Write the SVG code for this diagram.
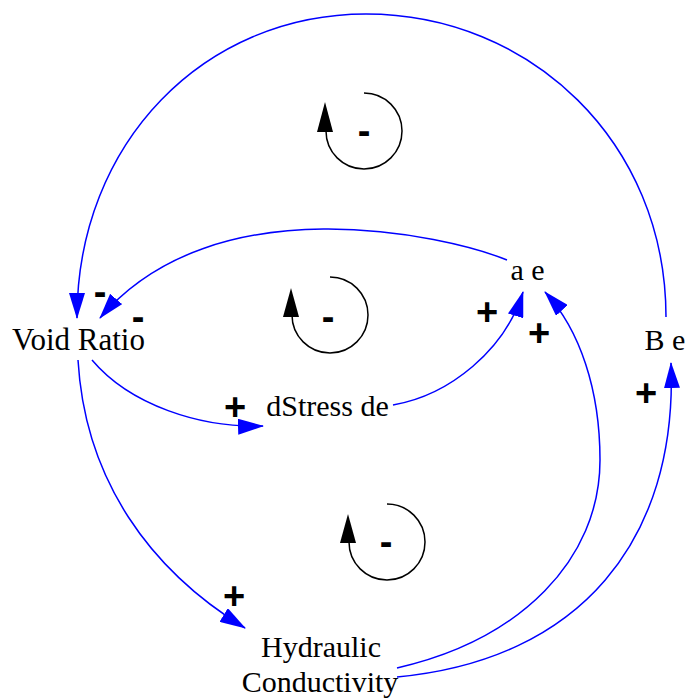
<svg xmlns="http://www.w3.org/2000/svg" width="689" height="698" viewBox="0 0 689 698">
<style>
.node{font-family:"Liberation Serif","Times New Roman",serif;font-size:30px;fill:#000;text-anchor:middle}
.link{fill:none;stroke:#0000ff;stroke-width:1.5;marker-end:url(#ah)}
.sign{font-family:"Liberation Sans",Arial,sans-serif;font-size:38px;font-weight:bold;fill:#000;text-anchor:middle}
.loop{fill:none;stroke:#000;stroke-width:1.5}
</style>
<defs>
<marker id="ah" markerUnits="userSpaceOnUse" markerWidth="26" markerHeight="16" viewBox="0 0 26 16" refX="25" refY="8" orient="auto">
<path d="M0,0 L26,8 L0,16 z" fill="#0000ff"/>
</marker>
</defs>
<rect width="689" height="698" fill="#fff"/>
<g id="connectors">
<path class="link" d="M666,317 C666,142 530,14 366,14 C205,14 77,142 77,318"/>
<path class="link" d="M507,260 C445,235 215,183 100,318"/>
<path class="link" d="M92,360 C130,405 200,428 263,426"/>
<path class="link" d="M78,360 C85,480 150,570 245,628"/>
<path class="link" d="M393,405 C450,395 505,350 523,292"/>
<path class="link" d="M397,668 C520,640 600,560 600,460 C600,390 580,330 545,292"/>
<path class="link" d="M397,677 C580,660 678,540 671,363"/>
</g>
<g id="polarity">
<text class="sign" x="100" y="305">-</text>
<text class="sign" x="138" y="330">-</text>
<text class="sign" x="235" y="420">+</text>
<text class="sign" x="234" y="609">+</text>
<text class="sign" x="487" y="325">+</text>
<text class="sign" x="539" y="346">+</text>
<text class="sign" x="646" y="406">+</text>
</g>
<g id="loop1">
<path class="loop" d="M364,93 A38,38 0 1 1 326,131"/>
<polygon points="325,102 317,132 333,132" fill="#000"/>
<text class="sign" x="364" y="144">-</text>
</g>
<g id="loop2">
<path class="loop" d="M330,277 A38,38 0 1 1 292,315"/>
<polygon points="291,288 283,317 299,317" fill="#000"/>
<text class="sign" x="328" y="330">-</text>
</g>
<g id="loop3">
<path class="loop" d="M387,504 A38,38 0 1 1 349,542"/>
<polygon points="348,514 340,543 356,543" fill="#000"/>
<text class="sign" x="386" y="555">-</text>
</g>
<g id="void-ratio"><text class="node" x="78.5" y="350" style="font-size:31px">Void Ratio</text></g>
<g id="dstress-de"><text class="node" x="327.5" y="416">dStress de</text></g>
<g id="a-e"><text class="node" x="527.5" y="280">a e</text></g>
<g id="b-e"><text class="node" x="665" y="350">B e</text></g>
<g id="hydraulic-conductivity"><text class="node" x="321" y="657">Hydraulic</text><text class="node" x="320" y="692">Conductivity</text></g>
</svg>
